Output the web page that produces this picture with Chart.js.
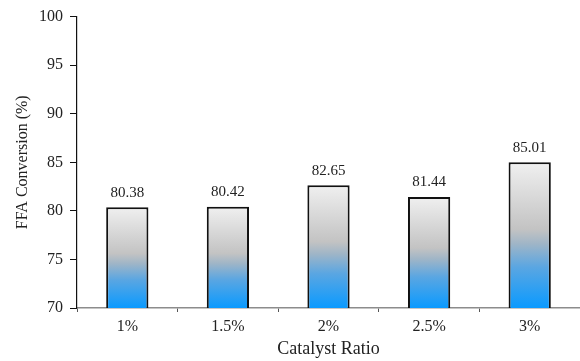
<!DOCTYPE html>
<html>
<head>
<meta charset="utf-8">
<script src="https://cdn.jsdelivr.net/npm/chart.js@4/dist/chart.umd.min.js"></script>
<style>
  html, body { margin: 0; padding: 0; background: #fff; }
  #wrap { width: 580px; height: 361px; position: relative; }
</style>
</head>
<body>
<div id="wrap"><canvas id="c"></canvas></div>
<script>
// Catalyst ratio vs. FFA conversion
const categories = ['1%', '1.5%', '2%', '2.5%', '3%'];
const conversion = [80.38, 80.42, 82.65, 81.44, 85.01];
const yTicks = [70, 75, 80, 85, 90, 95, 100];

const SERIF = '"Liberation Serif", "Times New Roman", serif';

// Vertical gray-to-blue fill, stretched over each bar's own height
function barFill(ctx) {
  const chart = ctx.chart;
  const y = chart.scales && chart.scales.y;
  if (!chart.chartArea || !y || ctx.raw === undefined) return '#c0c0c0';
  const top = y.getPixelForValue(ctx.raw);
  const bottom = y.getPixelForValue(yTicks[0]);
  const g = chart.ctx.createLinearGradient(0, top, 0, bottom);
  g.addColorStop(0, '#f0f0f0');
  g.addColorStop(0.46, '#c3c3c3');
  g.addColorStop(0.56, '#9fb5c7');
  g.addColorStop(0.72, '#5aa6e2');
  g.addColorStop(1, '#0a9aff');
  return g;
}

// Value printed above each bar
const valueLabels = {
  id: 'valueLabels',
  afterDatasetsDraw(chart) {
    const c = chart.ctx;
    const meta = chart.getDatasetMeta(0);
    c.save();
    c.font = '15px ' + SERIF;
    c.fillStyle = '#222';
    c.textAlign = 'center';
    c.textBaseline = 'bottom';
    meta.data.forEach((bar, i) => {
      c.fillText(conversion[i].toFixed(2), bar.x, bar.y - 7);
    });
    c.restore();
  }
};

new Chart(document.getElementById('c'), {
  type: 'bar',
  data: {
    labels: categories,
    datasets: [{
      data: conversion,
      backgroundColor: barFill,
      borderColor: '#111',
      borderWidth: 2,
      borderSkipped: false,
      barPercentage: 0.42,
      categoryPercentage: 1.0
    }]
  },
  options: {
    responsive: true,
    maintainAspectRatio: false,
    animation: false,
    layout: { padding: { top: 8, right: 0, bottom: 0, left: 0 } },
    plugins: { legend: { display: false }, tooltip: { enabled: false } },
    scales: {
      x: {
        offset: true,
        border: { color: '#8c8c8c', width: 1.5 },
        grid: { drawOnChartArea: false, color: '#555', tickLength: 4, offset: true },
        ticks: { color: '#222', font: { family: SERIF, size: 16 }, padding: 5 },
        title: { display: true, text: 'Catalyst Ratio', color: '#222', font: { family: SERIF, size: 18 }, padding: { top: 2, bottom: 1 } },
        afterFit(scale) { scale.height = 53; }
      },
      y: {
        min: yTicks[0],
        max: yTicks[yTicks.length - 1],
        border: { color: '#111', width: 1.2 },
        grid: { drawOnChartArea: false, color: '#111', tickLength: 7 },
        afterBuildTicks(scale) { scale.ticks = yTicks.map(v => ({ value: v })); },
        ticks: { color: '#222', font: { family: SERIF, size: 16 }, padding: 7 },
        title: { display: true, text: 'FFA Conversion (%)', color: '#222', font: { family: SERIF, size: 16 }, padding: { top: 13, bottom: 0 } },
        afterFit(scale) { scale.width = 77; }
      }
    }
  },
  plugins: [valueLabels]
});
</script>
</body>
</html>
